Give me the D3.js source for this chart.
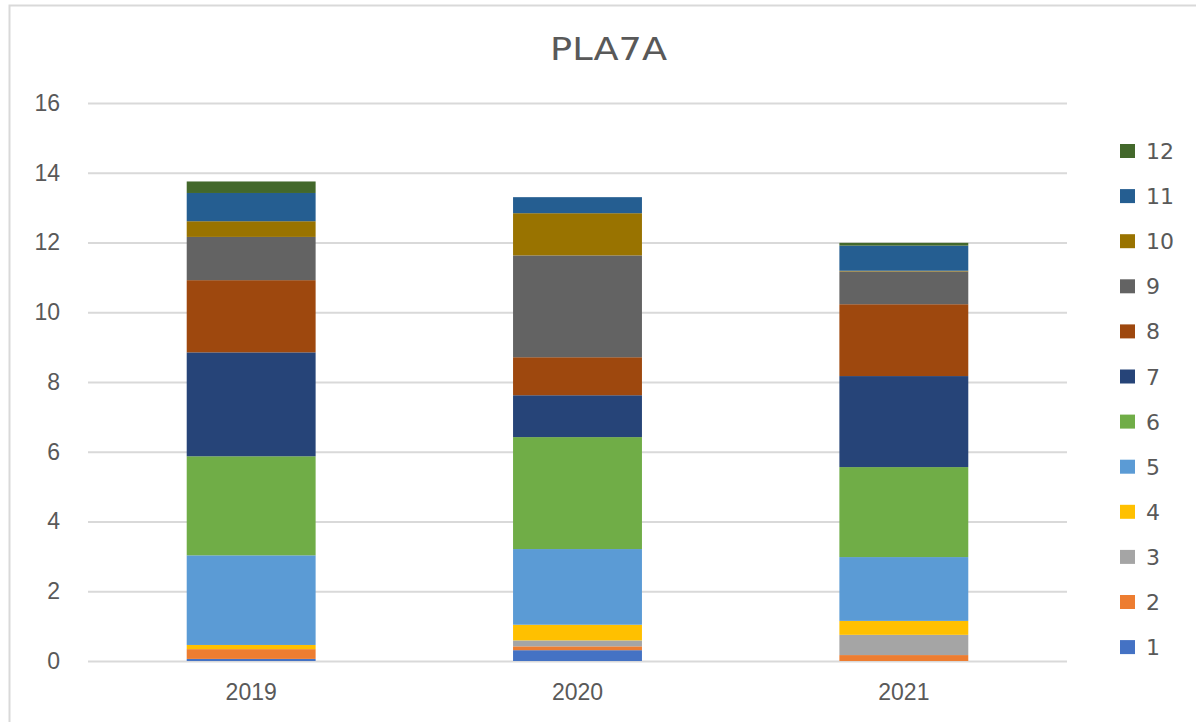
<!DOCTYPE html>
<html>
<head>
<meta charset="utf-8">
<script src="https://cdn.jsdelivr.net/npm/d3@7"></script>
<style>
  body { margin: 0; background: #fff; }
  svg { display: block; font-family: "DejaVu Sans", "Noto Sans", sans-serif; }
</style>
</head>
<body>
<svg id="chart" width="1196" height="722"></svg>
<script>
// data
var years = ["2019", "2020", "2021"];
var seriesNames = ["1", "2", "3", "4", "5", "6", "7", "8", "9", "10", "11", "12"];
var s1  = [0.06, 0.31, 0.00];
var s2  = [0.28, 0.11, 0.17];
var s3  = [0.00, 0.17, 0.58];
var s4  = [0.12, 0.45, 0.40];
var s5  = [2.57, 2.17, 1.83];
var s6  = [2.84, 3.21, 2.58];
var s7  = [2.98, 1.20, 2.61];
var s8  = [2.07, 1.09, 2.06];
var s9  = [1.24, 2.92, 0.94];
var s10 = [0.45, 1.21, 0.02];
var s11 = [0.81, 0.46, 0.72];
var s12 = [0.33, 0.00, 0.08];
var yTicks = [0, 2, 4, 6, 8, 10, 12, 14, 16];
var colors = ["#4472C4", "#ED7D31", "#A5A5A5", "#FFC000", "#5B9BD5", "#70AD47",
              "#264478", "#9E480E", "#636363", "#997300", "#255E91", "#43682B"];

(function() {
    'use strict';
    var svg = d3.select("#chart"),
        margin = {top: 103, right: 129, bottom: 61, left: 88},
        width = 1196 - margin.left - margin.right,
        height = 722 - margin.top - margin.bottom,
        allSeries = [s1, s2, s3, s4, s5, s6, s7, s8, s9, s10, s11, s12],
        textColor = "#595959";

    // build rows for d3.stack
    var rows = years.map(function(yr, i) {
        var r = {year: yr};
        seriesNames.forEach(function(n, k) { r[n] = allSeries[k][i]; });
        return r;
    });
    var stacked = d3.stack().keys(seriesNames)(rows);

    var x = d3.scaleBand().domain(years).range([0, width]).paddingInner(0.605).paddingOuter(0.3025),
        y = d3.scaleLinear().domain([0, 16]).range([height, 0]),
        color = d3.scaleOrdinal().domain(seriesNames).range(colors);

    // outer frame (only top and left edges visible in the crop)
    svg.append("path")
        .attr("d", "M9.5,722V5.5H1196")
        .attr("fill", "none")
        .attr("stroke", "#d9d9d9")
        .attr("stroke-width", 2);

    svg.append("text")
        .attr("x", 608.5)
        .attr("y", 60)
        .attr("text-anchor", "middle")
        .attr("fill", textColor)
        .attr("textLength", 117)
        .attr("lengthAdjust", "spacingAndGlyphs")
        .style("font-size", "32px")
        .text("PLA7A");

    var g = svg.append("g").attr("transform", "translate(" + margin.left + "," + margin.top + ")");

    // gridlines + y labels
    var yAxis = g.append("g")
        .call(d3.axisLeft(y).tickValues(yTicks).tickSize(-width).tickPadding(28).tickFormat(d3.format("d")));
    yAxis.select(".domain").remove();
    yAxis.selectAll(".tick line").attr("stroke", "#d9d9d9").attr("stroke-width", 2);
    yAxis.selectAll(".tick text").attr("fill", textColor).style("font-size", "23px");

    g.selectAll(".layer")
        .data(stacked)
        .enter().append("g")
        .attr("class", "layer")
        .attr("fill", function(d) { return color(d.key); })
        .selectAll("rect")
        .data(function(d) { return d; })
        .enter().append("rect")
        .attr("x", function(d) { return x(d.data.year); })
        .attr("y", function(d) { return y(d[1]); })
        .attr("width", x.bandwidth())
        .attr("height", function(d) { return y(d[0]) - y(d[1]); });

    var xAxis = g.append("g")
        .attr("transform", "translate(0," + height + ")")
        .call(d3.axisBottom(x).tickSize(0).tickPadding(23));
    xAxis.select(".domain").remove();
    xAxis.selectAll(".tick text").attr("fill", textColor).style("font-size", "23px");

    // legend, 12 at top down to 1 at bottom
    var legend = svg.append("g").attr("transform", "translate(1120,0)");
    var items = legend.selectAll(".item")
        .data(seriesNames.slice().reverse())
        .enter().append("g")
        .attr("class", "item")
        .attr("transform", function(d, i) { return "translate(0," + (151 + i * 45.1) + ")"; });
    items.append("rect")
        .attr("x", 0)
        .attr("y", -7)
        .attr("width", 15)
        .attr("height", 14)
        .attr("fill", function(d) { return color(d); });
    items.append("text")
        .attr("x", 26)
        .attr("y", 8)
        .attr("fill", textColor)
        .style("font-size", "22px")
        .text(function(d) { return d; });
})();
</script>
</body>
</html>
